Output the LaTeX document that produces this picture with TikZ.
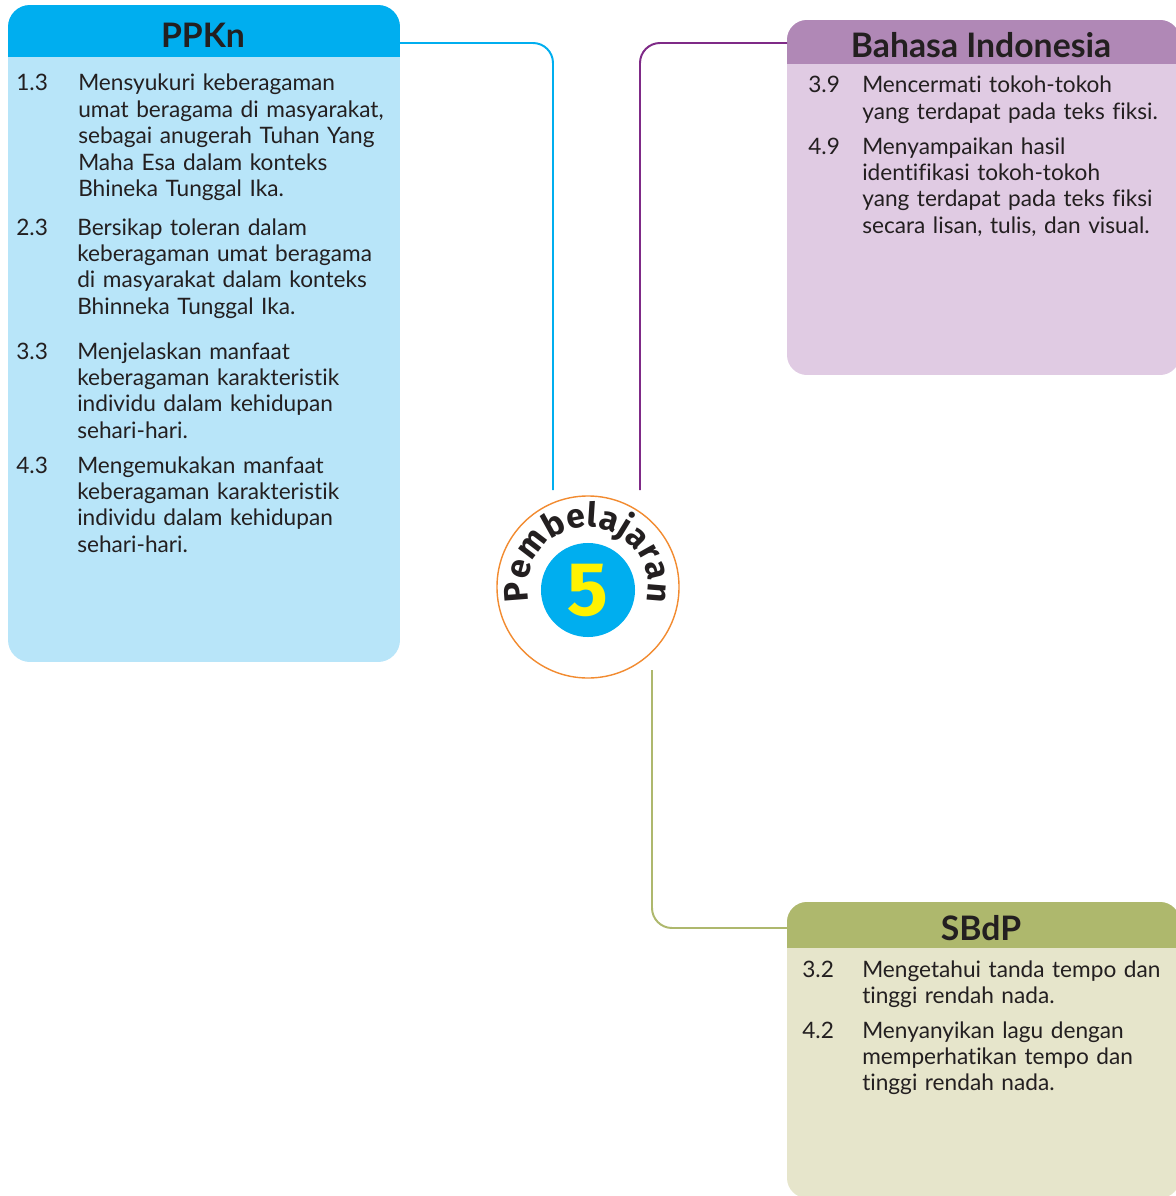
\documentclass[tikz,border=0pt]{standalone}
\usepackage{fontspec}
\setmainfont[Ligatures={NoCommon}]{Lato}
\newfontfamily\roundfont{Fira Sans}
\usetikzlibrary{decorations.text}
\definecolor{ink}{HTML}{231F20}
\definecolor{ppknhead}{HTML}{00AEEF}
\definecolor{ppknbody}{HTML}{B8E5F9}
\definecolor{bindohead}{HTML}{B088B6}
\definecolor{bindobody}{HTML}{E0CBE3}
\definecolor{bindoline}{HTML}{7F2A87}
\definecolor{sbdphead}{HTML}{AEB86D}
\definecolor{sbdpbody}{HTML}{E6E5CB}
\definecolor{ringorange}{HTML}{F28B30}
\definecolor{numyellow}{HTML}{FFF200}
\newcommand{\itemfont}{\fontsize{16.1}{18.8}\selectfont}
\newcommand{\titlefont}{\fontsize{24}{28}\selectfont\bfseries}
\begin{document}
\begin{tikzpicture}[x=0.025cm, y=-0.025cm]
		\tikzstyle{num} = [anchor=base west, inner sep=0pt, font=\itemfont, text=ink]
		\tikzstyle{item} = [num, text width=8.5cm, align=left]
		\tikzstyle{title} = [inner sep=0pt, font=\titlefont, text=ink]
		\tikzstyle{link} = [line width=1.4pt, rounded corners=0.5cm]
		\useasboundingbox (0,0) rectangle (1176,1196);
		\clip (0,0) rectangle (1176,1196);
		% panels
		\begin{scope}
			\clip[rounded corners=0.55cm] (8,5) rectangle (400,662);
			\fill[ppknbody] (8,5) rectangle (400,662);
			\fill[ppknhead] (8,5) rectangle (400,57);
		\end{scope}
		\begin{scope}
			\clip[rounded corners=0.5cm] (787,20) rectangle (1180,375);
			\fill[bindobody] (787,20) rectangle (1180,375);
			\fill[bindohead] (787,20) rectangle (1180,64);
		\end{scope}
		\begin{scope}
			\clip[rounded corners=0.5cm] (787,902) rectangle (1180,1198);
			\fill[sbdpbody] (787,902) rectangle (1180,1198);
			\fill[sbdphead] (787,902) rectangle (1180,948);
		\end{scope}
		% titles
		\node[title](ppkn) at (203,35) {PPKn};
		\node[title](bindo) at (981,45) {Bahasa Indonesia};
		\node[title](sbdp) at (981,928) {SBdP};
		% PPKn items
		\node[num](n13) at (16,91) {1.3};
		\node[item](t13) at (78,91) {Mensyukuri keberagaman\\umat beragama di masyarakat,\\sebagai anugerah Tuhan Yang\\Maha Esa dalam konteks\\Bhineka Tunggal Ika.};
		\node[num](n23) at (16,235) {2.3};
		\node[item](t23) at (77,235) {Bersikap toleran dalam\\keberagaman umat beragama\\di masyarakat dalam konteks\\Bhinneka Tunggal Ika.};
		\node[num](n33) at (16,359) {3.3};
		\node[item](t33) at (77,359) {Menjelaskan manfaat\\keberagaman karakteristik\\individu dalam kehidupan\\sehari-hari.};
		\node[num](n43) at (16,473) {4.3};
		\node[item](t43) at (77,473) {Mengemukakan manfaat\\keberagaman karakteristik\\individu dalam kehidupan\\sehari-hari.};
		% Bahasa Indonesia items
		\node[num](n39) at (808,93) {3.9};
		\node[item](t39) at (862,93) {Mencermati tokoh-tokoh\\yang terdapat pada teks fiksi.};
		\node[num](n49) at (808,154) {4.9};
		\node[item](t49) at (862,154) {Menyampaikan hasil\\identifikasi tokoh-tokoh\\yang terdapat pada teks fiksi\\secara lisan, tulis, dan visual.};
		% SBdP items
		\node[num](n32) at (802,977) {3.2};
		\node[item](t32) at (862,977) {Mengetahui tanda tempo dan\\tinggi rendah nada.};
		\node[num](n42) at (802,1038) {4.2};
		\node[item](t42) at (862,1038) {Menyanyikan lagu dengan\\memperhatikan tempo dan\\tinggi rendah nada.};
		% centre badge
		\node[circle, draw=ringorange, line width=1pt, fill=white, minimum size=4.55cm, inner sep=0pt](lesson) at (588,587) {};
		\node[circle, fill=ppknhead, minimum size=2.35cm, inner sep=0pt](core) at (588,590) {};
		\node[text=numyellow, font=\roundfont\fontsize{54}{54}\selectfont\bfseries](five) at (core) {5};
		\begin{scope}[shift={(lesson.center)}, x=1cm, y=1cm]
			\path[decorate, decoration={text along path, text align=fit to path,
				text={|\roundfont\fontsize{24}{24}\selectfont\bfseries\color{ink}|Pembelajaran}}]
				(194:1.5cm) arc[start angle=194, end angle=-14, radius=1.5cm];
		\end{scope}
		% links
		\coordinate (ppknout) at (400,43);
		\coordinate (ppknend) at (553,490);
		\coordinate (bindoout) at (787,43);
		\coordinate (bindoend) at (640,490);
		\coordinate (sbdpstart) at (652,670);
		\coordinate (sbdpin) at (787,928);
		\draw[link, ppknhead] (ppknout) -| (ppknend);
		\draw[link, bindoline] (bindoout) -| (bindoend);
		\draw[link, sbdphead] (sbdpstart) |- (sbdpin);
	\end{tikzpicture}
\end{document}
